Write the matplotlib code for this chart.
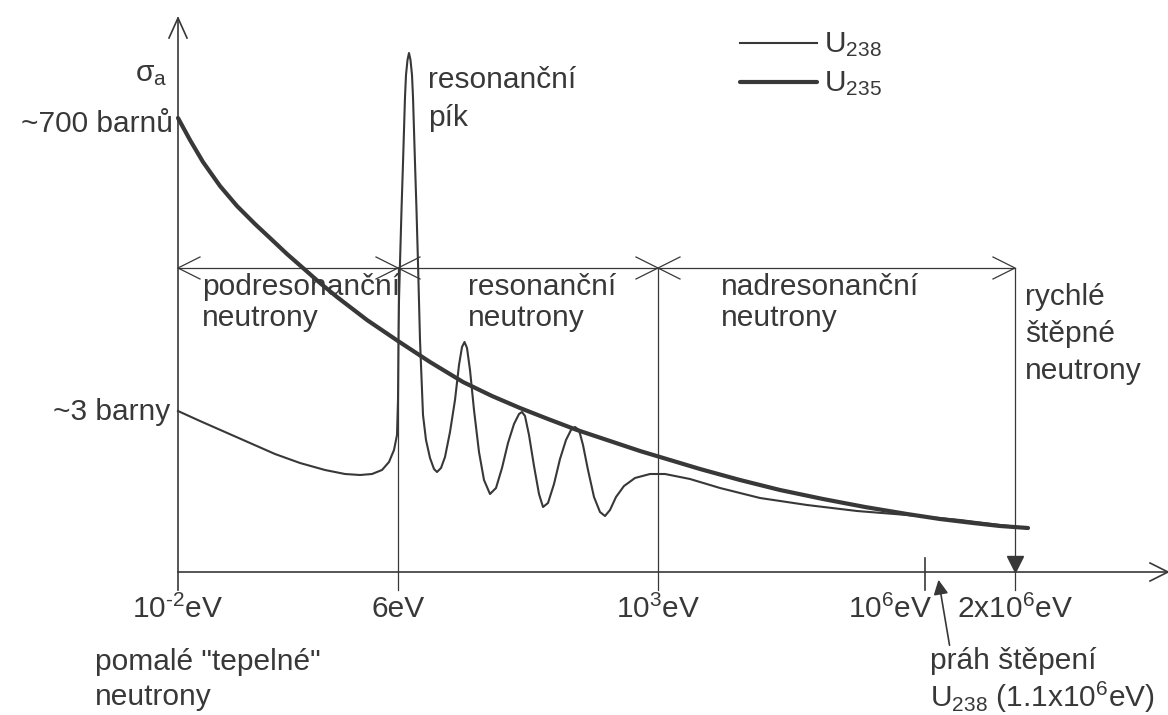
import matplotlib.pyplot as plt

plt.rcParams['font.family'] = ['Liberation Sans', 'DejaVu Sans']
plt.rcParams['mathtext.fontset'] = 'custom'
plt.rcParams['mathtext.rm'] = 'Liberation Sans'
plt.rcParams['mathtext.it'] = 'Liberation Sans'

# schematic units: x = distance along energy axis, y = height of sigma_a
u238_x = [0, 22, 47, 72, 97, 122, 147, 167, 182, 194, 204, 211, 216, 219, 220, 220.5, 221, 222,
          223.5, 225, 226, 227, 228, 229.5, 231, 232.5, 234, 235, 236, 237, 238.5, 240, 242, 245,
          248, 252, 256, 259, 263, 267, 272, 277, 281, 284, 286.5, 289, 292, 296, 301, 306, 312,
          318, 324, 330, 336, 341, 344, 347, 351, 356, 361, 365, 370, 376, 382, 388, 393, 397,
          401, 405, 410, 416, 422, 427, 432, 438, 446, 457, 472, 487, 512, 542, 582, 629, 679,
          729, 782, 822, 850]
u238_y = [161, 151, 140, 129, 118, 109, 102, 98, 97, 98, 102, 110, 122, 137, 172, 232, 272, 309,
          362, 409, 442, 475, 497, 512, 519, 512, 497, 475, 442, 409, 362, 309, 232, 157,
          132, 114, 103, 100, 104, 115, 140, 172, 207, 225, 230, 224, 202, 162, 120, 92, 78,
          84, 104, 129, 148, 158, 160, 156, 137, 106, 78, 65, 69, 88, 113, 132, 142, 145,
          142, 127, 102, 75, 60, 56, 62, 75, 86, 94, 98, 98, 93, 84, 74, 67, 61,
          57, 52, 47, 44]

u235_x = [0, 12, 25, 42, 59, 77, 92, 109, 125, 142, 159, 189, 220, 252, 285, 314, 342, 370,
          399, 432, 462, 492, 522, 562, 602, 645, 687, 729, 762, 795, 822, 850]
u235_y = [454, 432, 410, 386, 366, 348, 334, 318, 304, 289, 275, 252, 231, 210, 190, 176, 164, 153,
          142, 131, 121, 112, 103, 92, 82, 73, 65, 58, 53, 49, 46, 44]

tick_pos = [0, 220, 480, 747, 837]
tick_labels = [r'10$^{\text{-}2}$eV', '6eV', '10$^{3}$eV', '10$^{6}$eV', '2x10$^{6}$eV']
bounds = [0, 220, 480, 837]
regions = ['podresonanční\nneutrony', 'resonanční\nneutrony', 'nadresonanční\nneutrony']
band_y = 304

ink = '#383838'
fs = 21.5

fig = plt.figure(figsize=(11.68, 7.15), dpi=100)
ax = fig.add_axes([0, 0, 1, 1])
ax.set_xlim(-178, 990)
ax.set_ylim(-143, 572)
ax.axis('off')

# axes with open arrow heads
ax.plot([0, 0], [-18, 554], color=ink, lw=1.2)
ax.plot([-9, 0, 9], [534, 554, 534], color=ink, lw=1.2)
ax.plot([0, 990], [0, 0], color=ink, lw=1.2)
ax.plot([972, 990, 972], [9, 0, -9], color=ink, lw=1.2)

# region dividers and ticks
for b in bounds[1:]:
    ax.plot([b, b], [-18, band_y], color=ink, lw=0.9)
ax.plot([747, 747], [14, -18], color=ink, lw=1.2)

# double arrow band
ax.plot([bounds[0], bounds[-1]], [band_y, band_y], color=ink, lw=0.9)
for i, b in enumerate(bounds):
    if i < len(bounds) - 1:
        ax.plot([b + 22, b, b + 22], [band_y + 11, band_y, band_y - 11], color=ink, lw=0.9)
    if i > 0:
        ax.plot([b - 22, b, b - 22], [band_y + 11, band_y, band_y - 11], color=ink, lw=0.9)

# curves
ax.plot(u238_x, u238_y, color=ink, lw=1.5, solid_joinstyle='round')
ax.plot(u235_x, u235_y, color=ink, lw=3.0, solid_capstyle='round', solid_joinstyle='round')

# legend drawn by hand
ax.plot([562, 639], [529, 529], color=ink, lw=1.5)
ax.plot([562, 639], [490, 490], color=ink, lw=3.0, solid_capstyle='round')
ax.text(646, 527, 'U$_{238}$', fontsize=fs, color=ink, va='center')
ax.text(646, 488, 'U$_{235}$', fontsize=fs, color=ink, va='center')

# tick labels
for p, lab in zip(tick_pos, tick_labels):
    ax.text(p if p != 747 else 712, -37, lab, fontsize=fs, color=ink, ha='center', va='center')

# y labels
ax.text(-43, 498, 'σ$_{\\mathrm{a}}$', fontsize=fs, color=ink, ha='left', va='center')
ax.text(-5, 448, '~700 barnů', fontsize=fs, color=ink, ha='right', va='center')
ax.text(-8, 160, '~3 barny', fontsize=fs, color=ink, ha='right', va='center')

# annotations
ax.text(250, 492, 'resonanční', fontsize=fs, color=ink, va='center')
ax.text(250, 454, 'pík', fontsize=fs, color=ink, va='center')

for b, lab in zip([24, 290, 543], regions):
    l1, l2 = lab.split('\n')
    ax.text(b, 285, l1, fontsize=fs, color=ink, va='center')
    ax.text(b, 254, l2, fontsize=fs, color=ink, va='center')

for yy, s in zip([275, 238, 201], ['rychlé', 'štěpné', 'neutrony']):
    ax.text(847, yy, s, fontsize=fs, color=ink, va='center')

ax.text(-83, -90, 'pomalé "tepelné"', fontsize=fs, color=ink, va='center')
ax.text(-83, -125, 'neutrony', fontsize=fs, color=ink, va='center')

ax.text(752, -89, 'práh štěpení', fontsize=fs, color=ink, va='center')
ax.text(752, -125, 'U$_{238}$ (1.1x10$^{6}$eV)', fontsize=fs, color=ink, va='center')

ax.annotate('', xy=(760, -5), xytext=(772, -76),
            arrowprops=dict(arrowstyle='-|>', color=ink, lw=1.2, mutation_scale=22))
ax.plot([837], [8], marker='v', markersize=11, color=ink)

fig.savefig('out.png', dpi=100)
